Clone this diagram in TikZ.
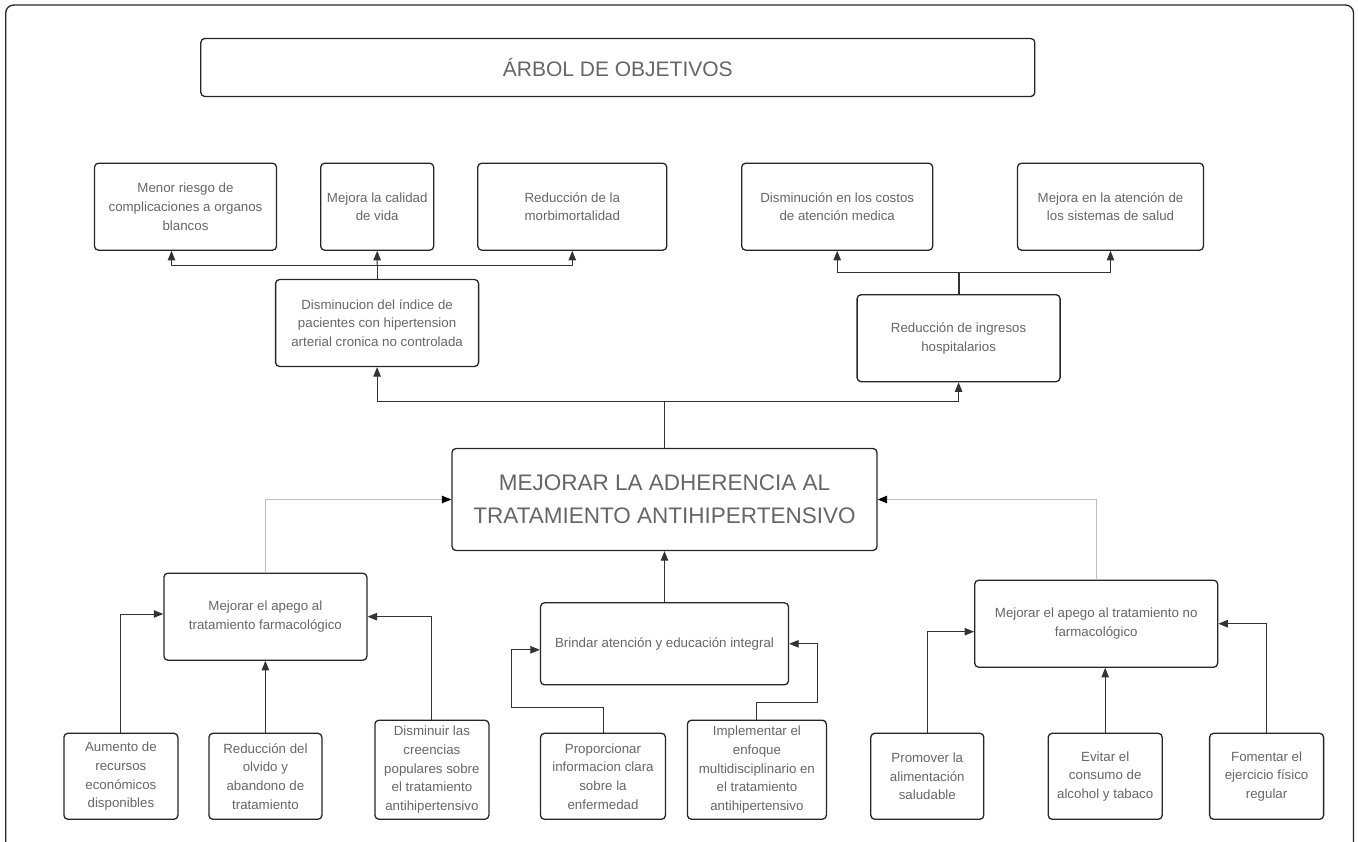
\documentclass[tikz,border=0pt]{standalone}
\usepackage{fontspec}
\setmainfont{Liberation Sans}
\usetikzlibrary{arrows.meta}

\begin{document}
\begin{tikzpicture}[x=1pt, y=-1pt,
    caja/.style={draw=black!85, line width=1.3pt, rounded corners=4pt, align=center,
      text=black!60, inner sep=0pt, font=\fontsize{13.3}{18.7}\selectfont},
    linea/.style={draw=black!80, line width=0.9pt},
    flecha/.style={linea, -{Triangle[length=9.5pt,width=7.5pt]}},
    gris/.style={draw=black!25, line width=0.9pt, -{Triangle[length=9.5pt,width=7.5pt,color=black]}}]
        \clip (0,0) rectangle (1358,842);
        \draw[black!85, line width=1.3pt, rounded corners=8pt] (5.7,5) rectangle (1353.5,900);

        % titulo
        \node[caja, minimum width=834pt, minimum height=58pt, font=\fontsize{21}{25}\selectfont] (titulo) at (617.8,67.5) {ÁRBOL DE OBJETIVOS};

        % fines
        \node[caja, minimum width=182pt, minimum height=87pt] (menor) at (185.5,206.7) {Menor riesgo de\\complicaciones a organos\\blancos};
        \node[caja, minimum width=113pt, minimum height=87pt] (calidad) at (377.2,206.7) {Mejora la calidad\\de vida};
        \node[caja, minimum width=189pt, minimum height=87pt] (morbi) at (572.3,206.7) {Reducción de la\\morbimortalidad};
        \node[caja, minimum width=191pt, minimum height=87pt] (costos) at (837.2,206.7) {Disminución en los costos\\de atención medica};
        \node[caja, minimum width=186pt, minimum height=87pt] (sistemas) at (1110.5,206.7) {Mejora en la atención de\\los sistemas de salud};
        \node[caja, minimum width=203pt, minimum height=87pt] (disminucion) at (377.1,323) {Disminucion del índice de\\pacientes con hipertension\\arterial cronica no controlada};
        \node[caja, minimum width=203pt, minimum height=87pt] (ingresos) at (958.6,338.2) {Reducción de ingresos\\hospitalarios};

        % objetivo central
        \node[caja, minimum width=425pt, minimum height=102pt, font=\fontsize{22.5}{33}\selectfont] (central) at (664.5,499.5) {MEJORAR LA ADHERENCIA AL\\TRATAMIENTO ANTIHIPERTENSIVO};

        % medios
        \node[caja, minimum width=203pt, minimum height=87pt] (farma) at (265.4,616.7) {Mejorar el apego al\\tratamiento farmacológico};
        \node[caja, minimum width=248pt, minimum height=82pt] (brindar) at (664.5,643.8) {Brindar atención y educación integral};
        \node[caja, minimum width=243pt, minimum height=87pt] (nofarma) at (1096.2,623.7) {Mejorar el apego al tratamiento no\\farmacológico};

        \node[caja, minimum width=114pt, minimum height=86pt] (aumento) at (120.9,776.3) {Aumento de\\recursos\\económicos\\disponibles};
        \node[caja, minimum width=113pt, minimum height=86pt] (olvido) at (265.4,776.3) {Reducción del\\olvido y\\abandono de\\tratamiento};
        \node[caja, minimum width=114pt, minimum height=99pt] (creencias) at (431.9,769.7) {Disminuir las\\creencias\\populares sobre\\el tratamiento\\antihipertensivo};
        \node[caja, minimum width=125pt, minimum height=86pt] (proporcionar) at (603,776.3) {Proporcionar\\informacion clara\\sobre la\\enfermedad};
        \node[caja, minimum width=139pt, minimum height=99pt] (implementar) at (756.9,769.7) {Implementar el\\enfoque\\multidisciplinario en\\el tratamiento\\antihipertensivo};
        \node[caja, minimum width=113pt, minimum height=86pt] (promover) at (927.3,776.3) {Promover la\\alimentación\\saludable};
        \node[caja, minimum width=114pt, minimum height=86pt] (evitar) at (1105.2,776.3) {Evitar el\\consumo de\\alcohol y tabaco};
        \node[caja, minimum width=114pt, minimum height=86pt] (fomentar) at (1266.6,776.3) {Fomentar el\\ejercicio físico\\regular};

        % conectores
        \coordinate (b1) at (377.1,265);
        \draw[linea] (disminucion.north) -- (b1);
        \draw[flecha] (b1) -- (calidad.south);
        \draw[flecha] (b1) -| ([xshift=-14pt]menor.south);
        \draw[flecha] (b1) -| (morbi.south);

        \coordinate (b2) at (958.6,272.7);
        \draw[linea, line width=1.8pt] (ingresos.north) -- (b2);
        \draw[flecha] (b2) -| (costos.south);
        \draw[flecha] (b2) -| (sistemas.south);

        \coordinate (b3) at (664.5,401.7);
        \draw[linea] (central.north) -- (b3);
        \draw[flecha] (b3) -| (disminucion.south);
        \draw[flecha] (b3) -| (ingresos.south);

        \draw[gris] (farma.north) |- (central.west);
        \draw[gris] (nofarma.north) |- (central.east);
        \draw[flecha] (brindar.north) -- (central.south);

        \draw[flecha] (aumento.north) |- ([yshift=2.7pt]farma.west);
        \draw[flecha] (olvido.north) -- (farma.south);
        \draw[flecha] (creencias.north) |- (farma.east);
        \draw[flecha] (proporcionar.north) -- ++(0,-25) -- ++(-92,0) |- ([yshift=-6pt]brindar.west);
        \draw[flecha] (implementar.north) -- ++(0,-17) -- ++(61,0) |- (brindar.east);
        \draw[flecha] (promover.north) |- ([yshift=-8pt]nofarma.west);
        \draw[flecha] (evitar.north) -- (evitar.north |- nofarma.south);
        \draw[flecha] (fomentar.north) |- (nofarma.east);
    \end{tikzpicture}
\end{document}
